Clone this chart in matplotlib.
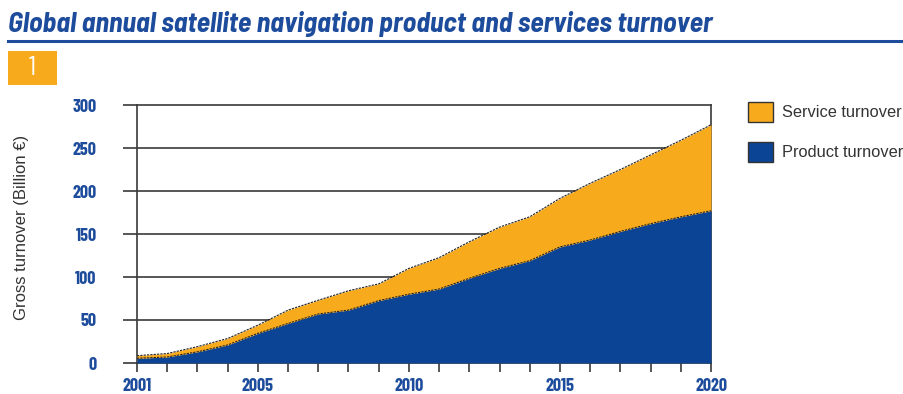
import matplotlib
matplotlib.use("Agg")
import matplotlib.pyplot as plt
import matplotlib.patches as mpatches

years = list(range(2001, 2021))
product = [5.5, 7, 13, 21, 34.5, 46, 57, 61.5, 72.5, 80, 86, 98.5, 110, 119, 135, 143, 153, 162, 170, 177]
total = [8.5, 11, 19, 28.5, 44, 61.5, 73, 84, 92, 110, 122.5, 141, 158, 170, 191.5, 209, 225, 242, 259, 277]

title = "Global annual satellite navigation product and services turnover"
ylabel = "Gross turnover (Billion \u20ac)"
labels = ["Service turnover", "Product turnover"]
yticks = [0, 50, 100, 150, 200, 250, 300]
xticklabels = [2001, 2005, 2010, 2015, 2020]

orange = "#F7AA1C"
blue = "#0B4494"
navy = "#1D4C9C"
grey = "#3a3a3a"
fam = ["Barlow Condensed", "DejaVu Sans"]
semi = ["Barlow Semi Condensed", "Barlow Condensed", "DejaVu Sans"]
plain = ["Liberation Sans", "DejaVu Sans"]

fig = plt.figure(figsize=(9.04, 3.94), dpi=100)

# header
fig.text(8 / 904, 1 - 24 / 394, title, fontsize=20.2, fontweight="bold", fontstyle="italic",
         color=navy, family=semi, va="center", ha="left")
fig.add_artist(plt.Line2D([8 / 904, 1], [1 - 41 / 394, 1 - 41 / 394], color=navy, lw=2.2))
fig.add_artist(mpatches.Rectangle((8 / 904, 1 - 85 / 394), 49 / 904, 34 / 394, color=orange, lw=0))
fig.text(32 / 904, 1 - 68 / 394, "1", color="white", fontsize=19, ha="center", va="center",
         family=fam)

ax = fig.add_axes([137 / 904, 1 - 363 / 394, 574 / 904, 258 / 394])
ax.fill_between(years, 0, product, color=blue, lw=0, zorder=3)
ax.fill_between(years, product, total, color=orange, lw=0, zorder=3)
ax.plot(years, product, color="#222222", lw=0.8, ls=(0, (2, 1)), zorder=4)
ax.plot(years, total, color="#222222", lw=0.8, ls=(0, (2, 1)), zorder=4)

ax.set_xlim(2001, 2020)
ax.set_ylim(0, 300)
ax.set_yticks(yticks)
ax.set_xticks(years)
ax.set_xticklabels([str(y) if y in xticklabels else "" for y in years])
for y in yticks[1:-1]:
    ax.axhline(y, color=grey, lw=1.2, zorder=1)
for s in ax.spines.values():
    s.set_color(grey)
    s.set_linewidth(1.2)
ax.tick_params(axis="y", length=10, width=1.2, color=grey, pad=19, labelsize=13, labelcolor=navy)
ax.tick_params(axis="x", length=6.5, width=1.2, color=grey, pad=4, labelsize=13, labelcolor=navy)
for t in ax.get_xticklabels() + ax.get_yticklabels():
    t.set_fontweight("bold")
    t.set_family(fam)

fig.text(22 / 904, 1 - 227 / 394, ylabel, rotation=90, fontsize=12, color="#333333",
         ha="center", va="center", family=plain)

handles = [mpatches.Patch(facecolor=orange, edgecolor="#333333", lw=1),
           mpatches.Patch(facecolor=blue, edgecolor="#333333", lw=1)]
leg = fig.legend(handles, labels, loc="upper left", bbox_to_anchor=(748 / 904, 1 - 102 / 394),
                 frameon=False, borderpad=0, borderaxespad=0, handlelength=1.53, handleheight=1.5,
                 labelspacing=1.2, handletextpad=0.55, prop={"family": plain, "size": 11.8})
for t in leg.get_texts():
    t.set_color("#333333")

fig.savefig("out.png", dpi=100)
